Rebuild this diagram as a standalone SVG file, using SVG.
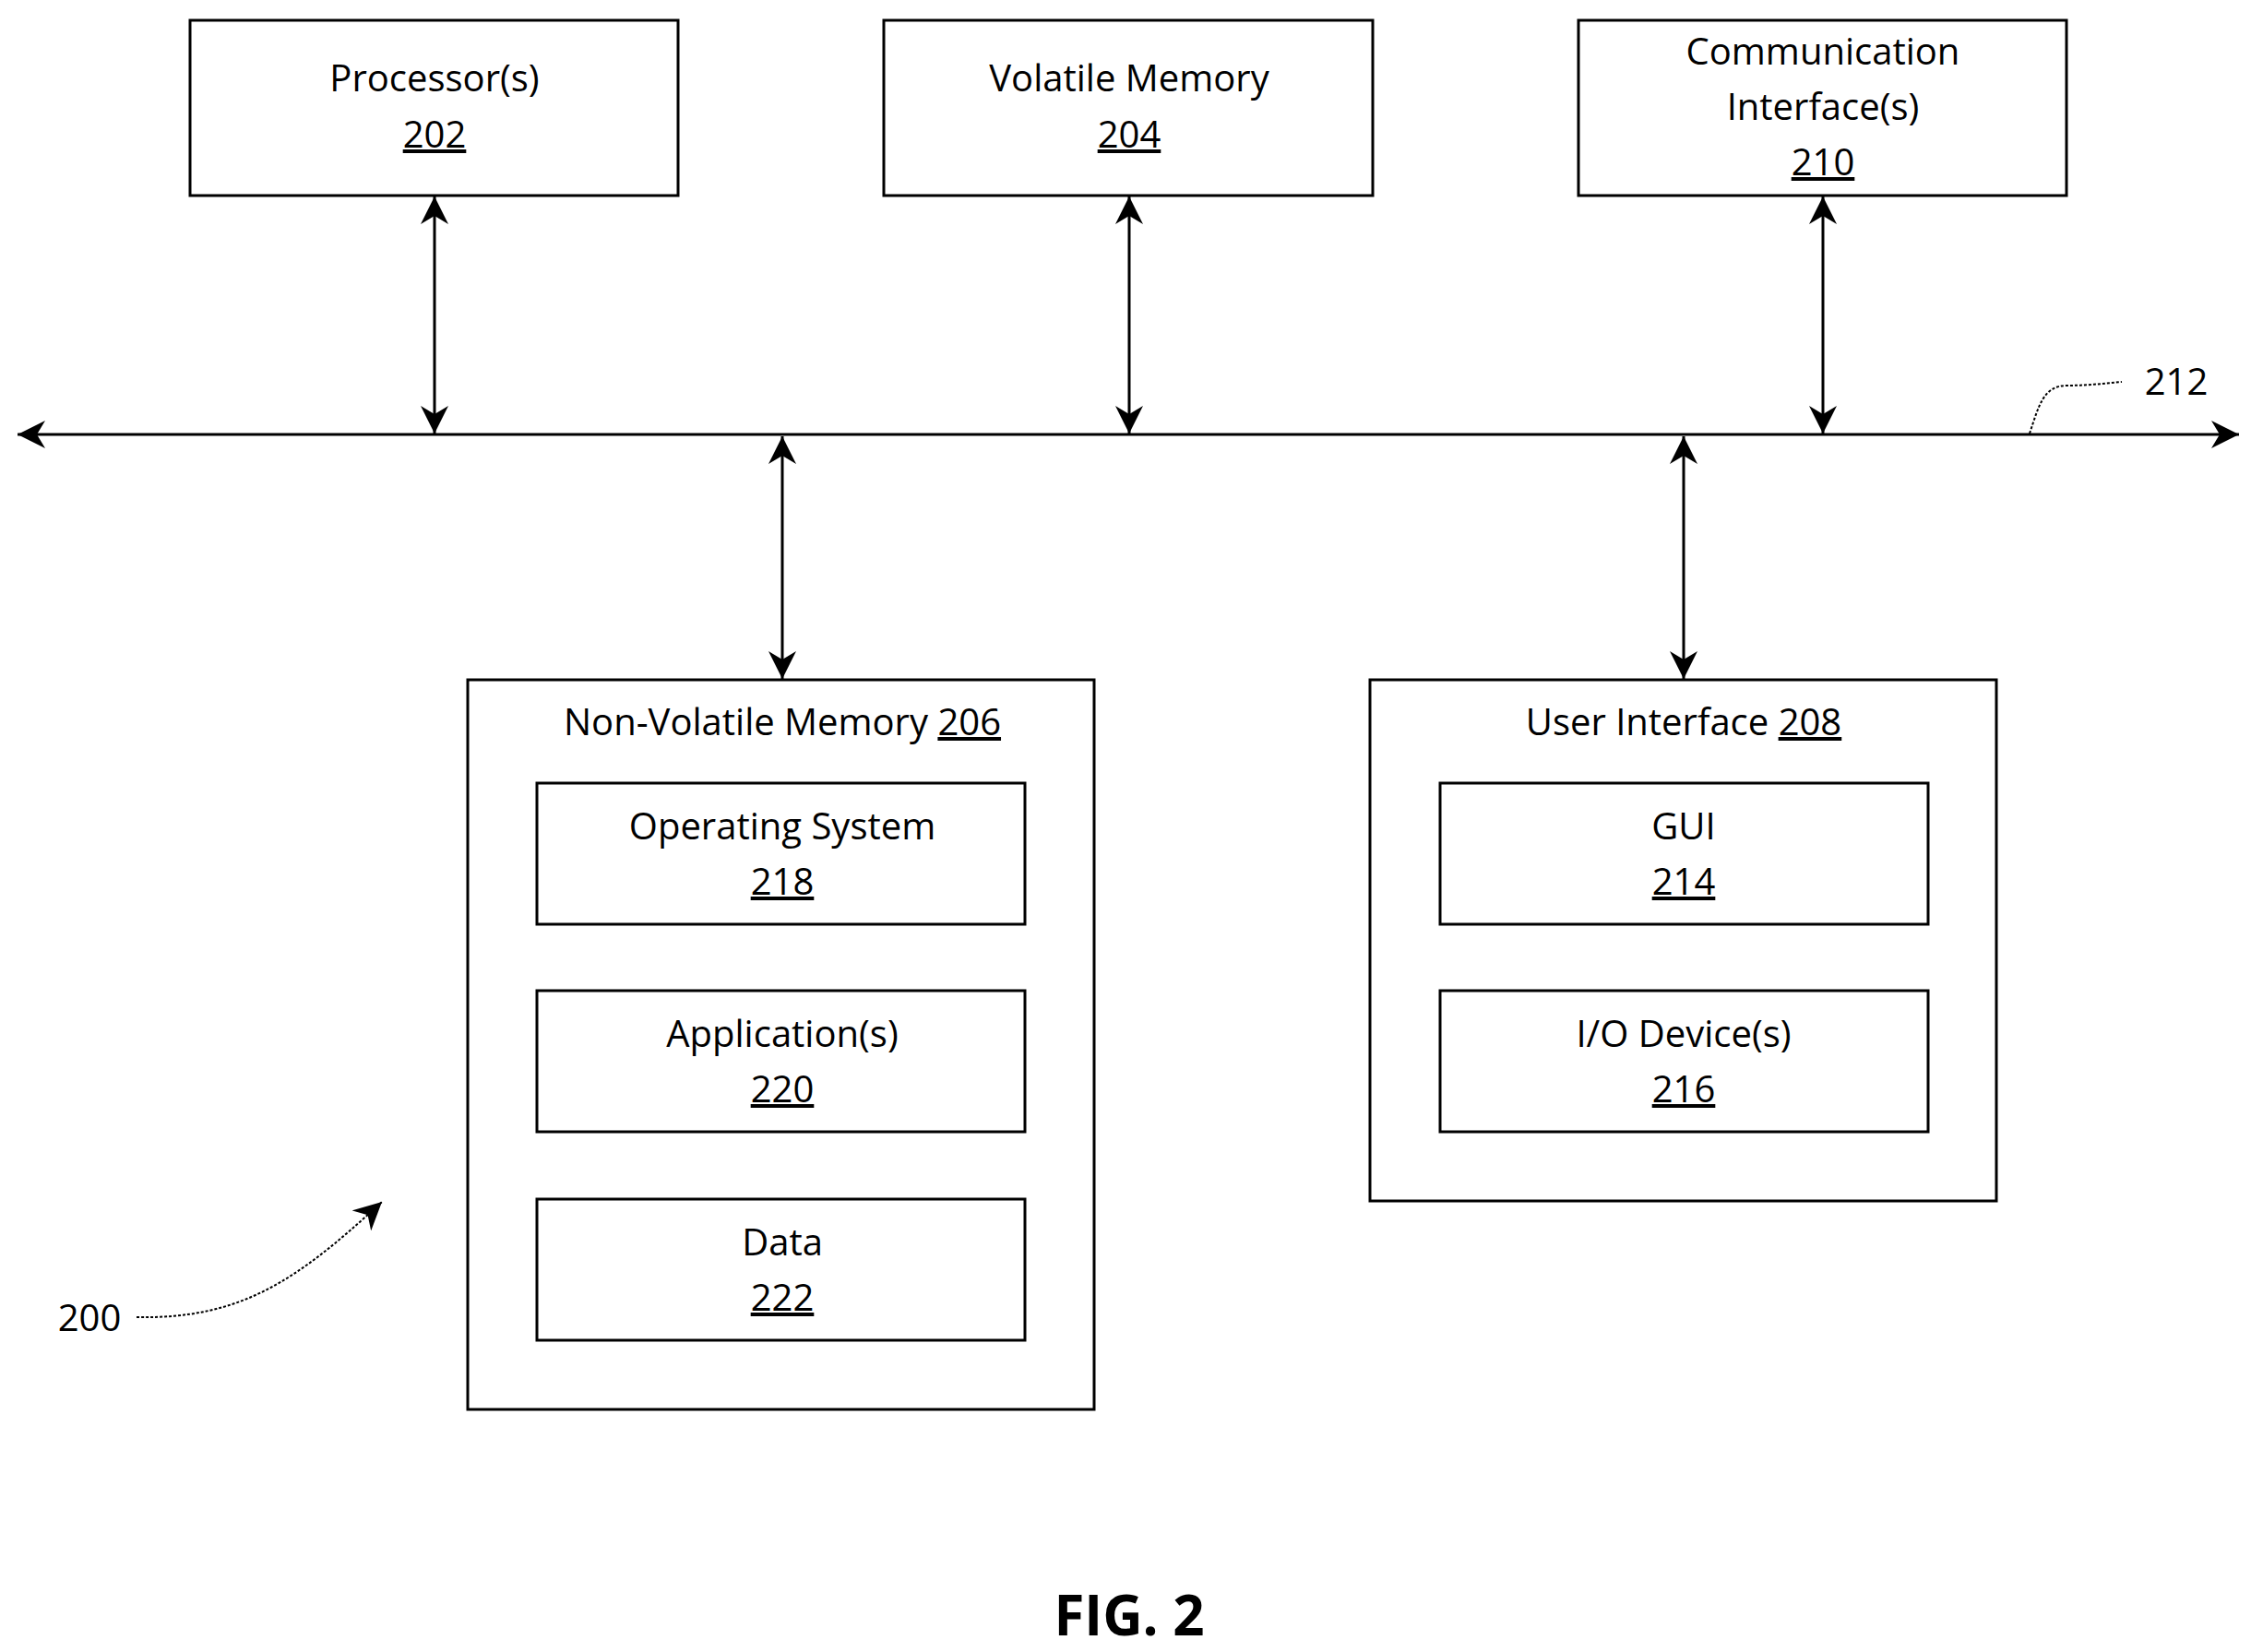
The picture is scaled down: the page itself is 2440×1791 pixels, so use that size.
<svg xmlns="http://www.w3.org/2000/svg" width="2440" height="1791" viewBox="0 0 2440 1791">
<style>
rect{fill:#fff;stroke:#000;stroke-width:3}
text{font-family:"Open Sans","Noto Sans",sans-serif;font-size:40px;text-anchor:middle;fill:#000}
.u{text-decoration:underline}
.c line{stroke:#000;stroke-width:3}
</style>
<defs>
<marker id="a" viewBox="0 0 10 10" refX="10" refY="5" markerWidth="10" markerHeight="10" markerUnits="userSpaceOnUse" orient="auto-start-reverse"><path d="M0,0L10,5L0,10L3,5z" fill="#000"/></marker>
<marker id="b" viewBox="0 0 10 10" refX="10" refY="5" markerWidth="30" markerHeight="30" markerUnits="userSpaceOnUse" orient="auto-start-reverse"><path d="M0,0L10,5L0,10L3,5z" fill="#000"/></marker>
</defs>
<rect x="0" y="0" width="2440" height="1791" style="stroke:none"/>
<g class="c" id="connectors">
<line x1="19" y1="471" x2="2427" y2="471" marker-start="url(#b)" marker-end="url(#b)"/>
<line x1="471" y1="213" x2="471" y2="470" marker-start="url(#b)" marker-end="url(#b)"/>
<line x1="1224" y1="213" x2="1224" y2="470" marker-start="url(#b)" marker-end="url(#b)"/>
<line x1="1976" y1="213" x2="1976" y2="470" marker-start="url(#b)" marker-end="url(#b)"/>
<line x1="848" y1="473" x2="848" y2="736" marker-start="url(#b)" marker-end="url(#b)"/>
<line x1="1825" y1="473" x2="1825" y2="736" marker-start="url(#b)" marker-end="url(#b)"/>
<path d="M2200,470 C2210,440 2215,418 2240,418 C2260,418 2280,416 2300,414" fill="none" stroke="#000" stroke-width="2" stroke-dasharray="3,2"/>
<path d="M148,1428 C260,1430 320,1390 414,1303" fill="none" stroke="#000" stroke-width="2" stroke-dasharray="3,2" marker-end="url(#b)"/>
</g>
<g id="n202"><rect x="206" y="22" width="529" height="190"/><text x="471" y="99">Processor(s)</text><text x="471" y="160" class="u">202</text></g>
<g id="n204"><rect x="958" y="22" width="530" height="190"/><text x="1224" y="99">Volatile Memory</text><text x="1224" y="160" class="u">204</text></g>
<g id="n210"><rect x="1711" y="22" width="529" height="190"/><text x="1976" y="70">Communication</text><text x="1976" y="130">Interface(s)</text><text x="1976" y="190" class="u">210</text></g>
<g id="n206"><rect x="507" y="737" width="679" height="791"/><text x="848" y="797">Non-Volatile Memory <tspan class="u">206</tspan></text></g>
<g id="n218"><rect x="582" y="849" width="529" height="153"/><text x="848" y="910">Operating System</text><text x="848" y="970" class="u">218</text></g>
<g id="n220"><rect x="582" y="1074" width="529" height="153"/><text x="848" y="1135">Application(s)</text><text x="848" y="1195" class="u">220</text></g>
<g id="n222"><rect x="582" y="1300" width="529" height="153"/><text x="848" y="1361">Data</text><text x="848" y="1421" class="u">222</text></g>
<g id="n208"><rect x="1485" y="737" width="679" height="565"/><text x="1825" y="797">User Interface <tspan class="u">208</tspan></text></g>
<g id="n214"><rect x="1561" y="849" width="529" height="153"/><text x="1825" y="910">GUI</text><text x="1825" y="970" class="u">214</text></g>
<g id="n216"><rect x="1561" y="1074" width="529" height="153"/><text x="1825" y="1135">I/O Device(s)</text><text x="1825" y="1195" class="u">216</text></g>
<text x="2359" y="428">212</text>
<text x="97" y="1443">200</text>
<text x="1224" y="1773" style="font-weight:bold;font-size:60px">FIG. 2</text>
</svg>
